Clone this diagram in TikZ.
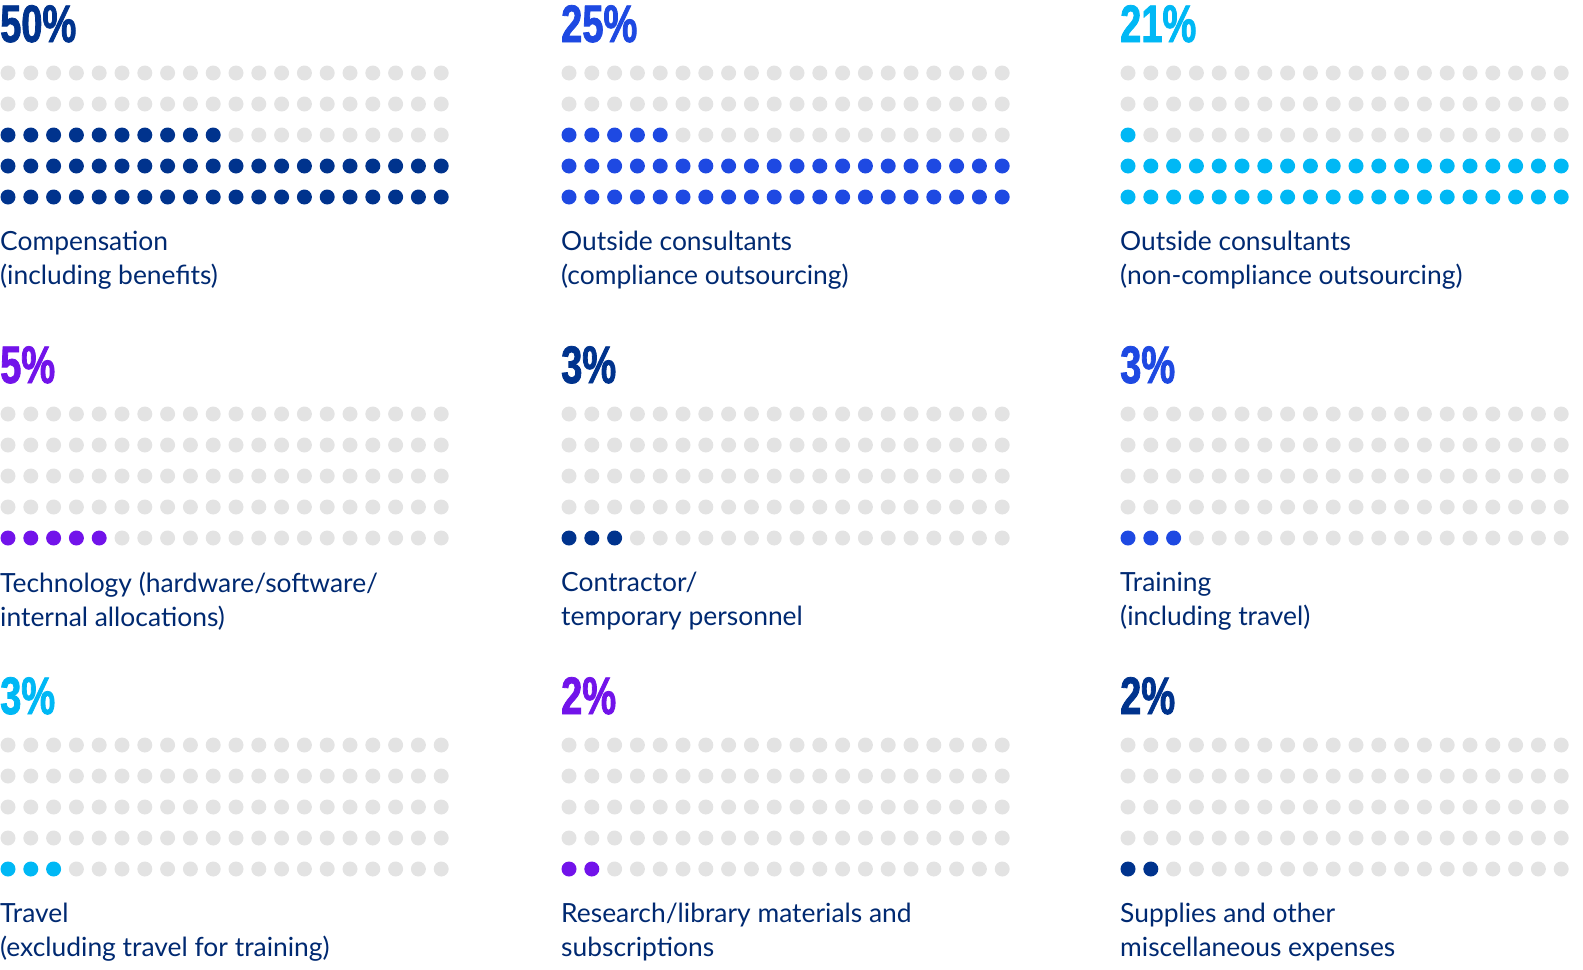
\documentclass[tikz,border=0pt]{standalone}
\usepackage{fontspec}
\setmainfont{Lato}
\newfontfamily\headfont[FakeStretch=0.72,FakeBold=1.5]{Liberation Sans}
\definecolor{navy}{HTML}{00338D}
\definecolor{kblue}{HTML}{1E49E2}
\definecolor{kcyan}{HTML}{00B8F5}
\definecolor{kpurple}{HTML}{7213EA}
\definecolor{kgray}{HTML}{E3E3E3}
\begin{document}
\begin{tikzpicture}[x=1bp,y=-1bp,
  headtxt/.style={anchor=base west,inner sep=0pt,font=\fontsize{53}{53}\selectfont\headfont\bfseries},
  labeltxt/.style={anchor=north west,inner sep=0pt,align=left,font=\fontsize{26.5}{34}\selectfont,text=navy!80!black}]
\useasboundingbox (0,0) rectangle (1583,969);
\newcommand\dotgrid[6]{%
  \foreach \r/\n in {#4} {
    \foreach \i in {0,...,19} {
      \pgfmathtruncatemacro\on{\i<\n ? 1 : 0}
      \ifnum\on=1
        \fill[#3] ({#1+22.8*\i},{#2+31*(\r-1)}) circle (7.5);
      \else
        \fill[kgray] ({#1+22.8*\i},{#2+31*(\r-1)}) circle (7.5);
      \fi
    }
  }
  \node[headtxt,text=#3] (h#5) at ({#1-8},{#2-31}) {#6};
}
\newcommand\lab[4]{\node[labeltxt] (l#4) at ({#1-8},{#2+158}) {#3};}
\dotgrid{8}{73}{navy}{1/0,2/0,3/10,4/20,5/20}{a}{50\%}
\lab{8}{73}{Compensation\\(including benefits)}{a}
\dotgrid{569}{73}{kblue}{1/0,2/0,3/5,4/20,5/20}{b}{25\%}
\lab{569}{73}{Outside consultants\\(compliance outsourcing)}{b}
\dotgrid{1128}{73}{kcyan}{1/0,2/0,3/1,4/20,5/20}{c}{21\%}
\lab{1128}{73}{Outside consultants\\(non-compliance outsourcing)}{c}
\dotgrid{8}{414}{kpurple}{1/0,2/0,3/0,4/0,5/5}{d}{5\%}
\lab{8}{414}{Technology (hardware/software/\\internal allocations)}{d}
\dotgrid{569}{414}{navy}{1/0,2/0,3/0,4/0,5/3}{e}{3\%}
\lab{569}{414}{Contractor/\\temporary personnel}{e}
\dotgrid{1128}{414}{kblue}{1/0,2/0,3/0,4/0,5/3}{f}{3\%}
\lab{1128}{414}{Training\\(including travel)}{f}
\dotgrid{8}{745}{kcyan}{1/0,2/0,3/0,4/0,5/3}{g}{3\%}
\lab{8}{745}{Travel\\(excluding travel for training)}{g}
\dotgrid{569}{745}{kpurple}{1/0,2/0,3/0,4/0,5/2}{h}{2\%}
\lab{569}{745}{Research/library materials and\\subscriptions}{h}
\dotgrid{1128}{745}{navy}{1/0,2/0,3/0,4/0,5/2}{i}{2\%}
\lab{1128}{745}{Supplies and other\\miscellaneous expenses}{i}
\end{tikzpicture}
\end{document}
